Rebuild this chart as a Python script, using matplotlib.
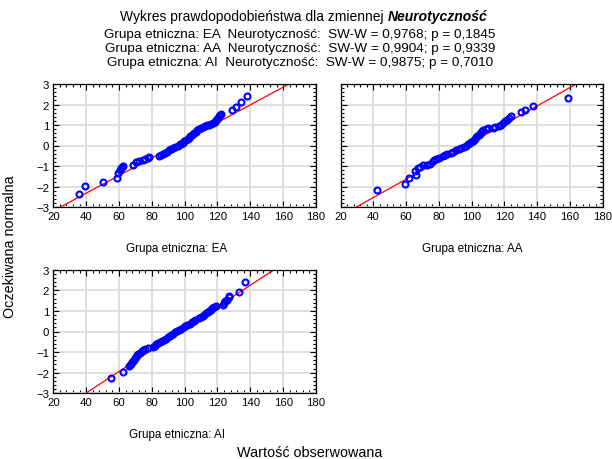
import matplotlib
matplotlib.use("Agg")
import matplotlib.pyplot as plt
from matplotlib.ticker import MultipleLocator
import numpy as np

plt.rcParams['font.family'] = ['Liberation Sans', 'DejaVu Sans']

ea_x = [35.4, 39.5, 50.4, 58.7, 59.6, 60.4, 61.0, 61.8, 62.6, 68.7, 70.3, 72.3,
        74.4, 75.8, 77.4, 78.3,
        84.4, 85.5, 86.7, 88.0, 89.5, 90.6, 91.6, 92.8, 94.3, 95.8, 97.0, 97.9,
        98.9, 99.8, 100.7, 101.8, 102.6, 103.4, 104.2, 105.0, 105.8, 106.8,
        107.8, 108.8, 110.0, 111.2, 112.5, 113.6, 114.8, 115.9, 117.1, 118.3,
        119.2, 119.8, 120.3, 120.8, 121.4, 122.0,
        129.1, 131.5, 134.2, 137.8]
ea_y = [-2.38, -1.99, -1.80, -1.60, -1.33, -1.21, -1.11, -1.05, -0.98, -0.93, -0.82, -0.78,
        -0.72, -0.66, -0.60, -0.54,
        -0.50, -0.45, -0.40, -0.35, -0.30, -0.24, -0.18, -0.12, -0.06, 0.00, 0.05, 0.09,
        0.14, 0.20, 0.26, 0.32, 0.38, 0.44, 0.50, 0.56, 0.62, 0.68,
        0.74, 0.79, 0.84, 0.89, 0.94, 0.98, 1.02, 1.06, 1.10, 1.15,
        1.22, 1.29, 1.36, 1.42, 1.47, 1.52,
        1.72, 1.88, 2.10, 2.40]

aa_x = [42.4, 59.6, 62.0, 65.8, 65.7, 67.3, 68.6, 70.0, 72.5, 74.4, 76.3, 76.8,
        78.5, 80.3, 82.5, 83.8, 85.1, 87.5, 88.8, 90.6, 92.0, 93.6, 95.2, 96.7,
        98.0, 99.0, 99.8, 100.6, 101.3, 102.0, 102.8, 103.6, 104.3, 105.0, 105.6,
        106.2, 107.2, 108.5, 110.0, 112.9, 114.5, 116.8, 118.0, 119.0, 120.2,
        121.6, 123.0, 124.3, 130.1, 132.8, 137.6, 159.2]
aa_y = [-2.18, -1.89, -1.60, -1.45, -1.25, -1.12, -1.04, -0.97, -0.93, -0.88, -0.77, -0.70,
        -0.64, -0.59, -0.53, -0.47, -0.41, -0.35, -0.30, -0.24, -0.18, -0.12, -0.06, -0.01,
        0.05, 0.10, 0.16, 0.22, 0.28, 0.34, 0.40, 0.46, 0.52, 0.58, 0.64,
        0.70, 0.76, 0.82, 0.86, 0.87, 0.90, 0.94, 1.02, 1.10, 1.18,
        1.26, 1.34, 1.44, 1.62, 1.74, 1.92, 2.30]

ai_x = [55.2, 62.5, 66.1, 66.8, 67.5, 68.2, 68.6, 69.3, 70.0, 70.6, 71.2, 71.8,
        72.9, 73.8, 74.8, 76.0, 77.4, 80.5, 81.8, 82.8, 83.8, 84.8, 86.0, 87.6,
        88.8, 89.8, 90.8, 91.8, 93.2, 94.4, 95.5, 96.8, 98.0, 99.5, 100.5, 101.5,
        103.0, 104.5, 105.5, 106.5, 108.5, 110.0, 111.0, 112.0, 113.0, 114.0,
        115.0, 115.8, 116.8, 117.8, 119.0, 123.4, 124.0, 124.6, 125.8, 127.0,
        127.3, 133.0, 136.8]
ai_y = [-2.26, -1.98, -1.69, -1.63, -1.57, -1.50, -1.44, -1.37, -1.30, -1.22, -1.15, -1.09,
        -1.03, -0.96, -0.90, -0.85, -0.80, -0.74, -0.68, -0.62, -0.56, -0.50, -0.45, -0.40,
        -0.34, -0.28, -0.22, -0.16, -0.10, -0.04, 0.02, 0.08, 0.14, 0.20, 0.26, 0.32,
        0.38, 0.45, 0.52, 0.58, 0.64, 0.70, 0.76, 0.82, 0.88, 0.94,
        1.00, 1.06, 1.12, 1.18, 1.24, 1.30, 1.38, 1.47, 1.55, 1.66,
        1.74, 1.92, 2.39]

# reference line: mean and sd per group
line_mean = [94.0, 96.8, 97.1]
line_sd = [23.2, 22.4, 19.1]

groups = ['EA', 'AA', 'AI']
xs = [ea_x, aa_x, ai_x]
ys = [ea_y, aa_y, ai_y]

title_lines = ['Grupa etniczna: EA  Neurotyczność:  SW-W = 0,9768; p = 0,1845',
               'Grupa etniczna: AA  Neurotyczność:  SW-W = 0,9904; p = 0,9339',
               'Grupa etniczna: AI  Neurotyczność:  SW-W = 0,9875; p = 0,7010']

W, H = 612, 460
fig = plt.figure(figsize=(6.12, 4.6), dpi=100)

# axes boxes in pixels: left, top, right, bottom
boxes = [(53.3, 85, 316, 208), (340.7, 85, 602.5, 208), (53.3, 270.7, 316, 394.3)]
label_pos = [(177, 249), (472, 249), (177, 435)]

for i in range(3):
    l, t, r, b = boxes[i]
    ax = fig.add_axes([l / W, 1 - b / H, (r - l) / W, (b - t) / H])
    ax.set_xlim(20, 180)
    ax.set_ylim(-3, 3)
    ax.xaxis.set_major_locator(MultipleLocator(20))
    ax.xaxis.set_minor_locator(MultipleLocator(4))
    ax.yaxis.set_major_locator(MultipleLocator(1))
    ax.yaxis.set_minor_locator(MultipleLocator(0.2))
    ax.grid(True, which='major', color='#dcdcdc', lw=1.3)
    ax.set_axisbelow(True)
    ax.tick_params(which='both', direction='in', top=True, right=True,
                   labelsize=8.2, width=0.8, pad=3)
    ax.tick_params(which='major', length=4)
    ax.tick_params(which='minor', length=2.5)
    for s in ax.spines.values():
        s.set_linewidth(0.9)
    if i == 1:
        ax.set_yticklabels([])
    lx = np.array([0, 200])
    ax.plot(lx, (lx - line_mean[i]) / line_sd[i], color='red', lw=0.9, zorder=2)
    ax.plot(xs[i], ys[i], 'o', mfc='none', mec='#0000ff', ms=4.3, mew=1.5, zorder=3)
    fig.text(label_pos[i][0] / W, 1 - label_pos[i][1] / H, 'Grupa etniczna: ' + groups[i],
             ha='center', va='center', fontsize=8.4)

# first title line: plain part + bold italic variable name, centred together
renderer = fig.canvas.get_renderer()
t1 = fig.text(0, 1 - 17 / H, 'Wykres prawdopodobieństwa dla zmiennej ', ha='left',
              va='center', fontsize=10)
t2 = fig.text(0, 1 - 17 / H, 'Neurotyczność', ha='left', va='center', fontsize=10,
              fontweight='bold', fontstyle='italic')
w1 = t1.get_window_extent(renderer).width
w2 = t2.get_window_extent(renderer).width
x0 = 304 - (w1 + w2) / 2
t1.set_x(x0 / W)
t2.set_x((x0 + w1) / W)

for k, line in enumerate(title_lines):
    fig.text(300 / W, 1 - (35 + 14 * k) / H, line, ha='center', va='center', fontsize=9.7)

fig.text(310 / W, 1 - 453 / H, 'Wartość obserwowana', ha='center', va='center', fontsize=10.4)
fig.text(10 / W, 1 - 247 / H, 'Oczekiwana normalna', ha='center', va='center',
         rotation=90, fontsize=10.4)

fig.savefig('out.png', dpi=100)
